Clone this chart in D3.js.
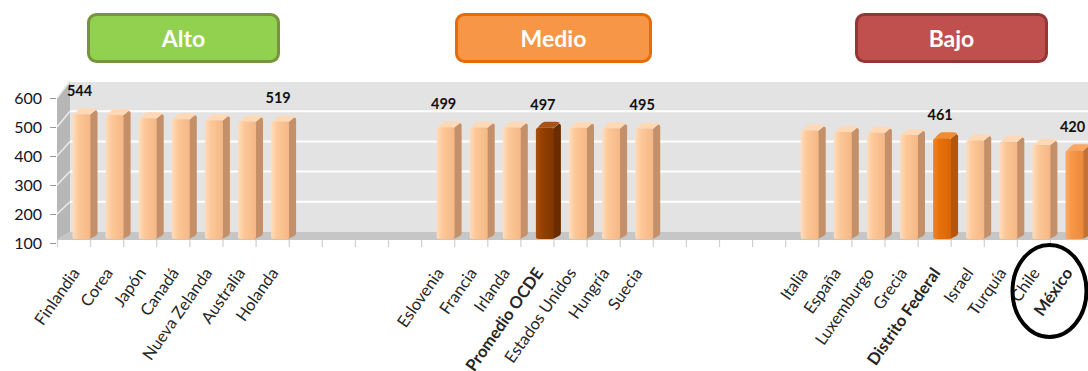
<!DOCTYPE html>
<html><head><meta charset="utf-8">
<script src="https://cdn.jsdelivr.net/npm/d3@7"></script>
<style>
html,body{margin:0;padding:0;background:#fff;overflow:hidden;}
svg{display:block;}
</style></head>
<body>
<svg id="c" width="1088" height="371"></svg>
<script>
// ---- data ----
const groupNames = ["Alto", "Medio", "Bajo"];
const altoCountries = ["Finlandia","Corea","Japón","Canadá","Nueva Zelanda","Australia","Holanda"];
const altoValues    = [544, 541, 530, 527, 523, 519, 519];
const medioCountries = ["Eslovenia","Francia","Irlanda","Promedio OCDE","Estados Unidos","Hungría","Suecia"];
const medioValues    = [499, 498, 498, 497, 497, 496, 495];
const bajoCountries = ["Italia","España","Luxemburgo","Grecia","Distrito Federal","Israel","Turquía","Chile","México"];
const bajoValues    = [488, 483, 480, 472, 461, 454, 450, 438, 420];
const labelledBars = ["Finlandia","Holanda","Eslovenia","Promedio OCDE","Suecia","Distrito Federal","México"];
const boldLabels = ["Promedio OCDE","Distrito Federal","México"];
const yTicks = [100, 200, 300, 400, 500, 600];

// ---- layout ----
const svg = d3.select("#c");
const gapSlots = 4;
const groups = [
  {name: groupNames[0], countries: altoCountries, values: altoValues, fill:"#92D050", stroke:"#77933C", bx:87, bw:193},
  {name: groupNames[1], countries: medioCountries, values: medioValues, fill:"#F79646", stroke:"#E46C0A", bx:455, bw:197},
  {name: groupNames[2], countries: bajoCountries, values: bajoValues, fill:"#C0504D", stroke:"#963634", bx:855, bw:193}
];
const slots = [];
const data = [];
groups.forEach((g, gi) => {
  g.countries.forEach((c, i) => { slots.push(c); data.push({name:c, value:g.values[i]}); });
  if (gi < groups.length - 1) for (let k = 0; k < gapSlots; k++) slots.push("gap" + gi + "_" + k);
});
const step = 33.1, x0 = 57.5;
const x = d3.scaleBand().domain(slots).range([x0, x0 + slots.length * step]).padding(0);
const yFront = d3.scaleLinear().domain([100, 600]).range([243, 98]);
const yBack  = d3.scaleLinear().domain([100, 600]).range([232, 81]);
const wallX = 70, frontX = 57, floorFront = 240;

// back wall
svg.append("rect").attr("x", wallX).attr("y", yBack(600)).attr("width", 1088 - wallX)
  .attr("height", yBack(100) - yBack(600)).attr("fill", "#E3E3E3");
// side wall
svg.append("path").attr("d", `M${frontX},${yFront(600)} L${wallX},${yBack(600)} L${wallX},${yBack(100)} L${frontX},${floorFront} Z`)
  .attr("fill", "#B7B7B7");
// gridlines back + side
yTicks.filter(v => v > 100).forEach(v => {
  svg.append("line").attr("x1", wallX).attr("x2", 1088).attr("y1", yBack(v)).attr("y2", yBack(v))
    .attr("stroke", "#fff").attr("stroke-width", 2);
  svg.append("line").attr("x1", frontX).attr("x2", wallX).attr("y1", yFront(v)).attr("y2", yBack(v))
    .attr("stroke", "#ececec").attr("stroke-width", 1.5);
});
// floor
svg.append("path").attr("d", `M${frontX},${floorFront} L1088,${floorFront} L1088,${yBack(100)} L${wallX},${yBack(100)} Z`)
  .attr("fill", "#C6C6C6");
// floor ticks
slots.forEach((s, i) => {
  const xx = x(s);
  svg.append("line").attr("x1", xx).attr("x2", xx).attr("y1", floorFront).attr("y2", floorFront + 7)
    .attr("stroke", "#cfcfcf").attr("stroke-width", 1.2);
});

// y axis
const yAxis = d3.axisLeft(yFront).tickValues(yTicks).tickSize(6).tickPadding(8);
const ag = svg.append("g").attr("transform", `translate(${frontX - 1},0)`).call(yAxis);
ag.select(".domain").remove();
ag.selectAll(".tick line").attr("stroke", "#999");
ag.selectAll(".tick text").attr("font-family", "Lato, 'Open Sans', sans-serif").attr("font-size", 16)
  .attr("fill", "#141428");

// gradients
const defs = svg.append("defs");
const palettes = {
  light: {front:["#FFDDBE","#FDC797","#F4B886"], side:"#C39069", top:"#FFD9B5"},
  ocde:  {front:["#A84F0E","#963F00","#7F3600"], side:"#6A2C00", top:"#A95215"},
  df:    {front:["#F2832A","#E8700A","#D76507"], side:"#B65507", top:"#F08A33"},
  mex:   {front:["#FBAA67","#F79646","#EC8A3B"], side:"#C37134", top:"#FBA764"}
};
Object.entries(palettes).forEach(([k, p]) => {
  const lg = defs.append("linearGradient").attr("id", "g_" + k).attr("x1", 0).attr("x2", 1).attr("y1", 0).attr("y2", 0);
  lg.append("stop").attr("offset", "0%").attr("stop-color", p.front[0]);
  lg.append("stop").attr("offset", "35%").attr("stop-color", p.front[1]);
  lg.append("stop").attr("offset", "100%").attr("stop-color", p.front[2]);
});
function pal(name) {
  if (name === "Promedio OCDE") return "ocde";
  if (name === "Distrito Federal") return "df";
  if (name === "México") return "mex";
  return "light";
}

// bars
const fw = 18, dx = 7, dy = -5, barBottom = 239;
const bars = svg.append("g");
data.forEach(d => {
  const p = palettes[pal(d.name)];
  const bx = x(d.name) + 15, top = yFront(d.value);
  const g = bars.append("g");
  g.append("path").attr("d", `M${bx + fw - 1},${top + 1} L${bx + fw + dx - 2},${top + dy + 1} Q${bx + fw + dx},${top + dy + 1} ${bx + fw + dx},${top + dy + 3} L${bx + fw + dx},${barBottom + dy - 1} Q${bx + fw + dx},${barBottom + dy + 1} ${bx + fw + dx - 2},${barBottom + dy + 2} L${bx + fw - 1},${barBottom} Z`)
    .attr("fill", p.side);
  g.append("path").attr("d", `M${bx + 1},${top + 1} Q${bx + 1},${top} ${bx + 3},${top} L${bx + fw},${top} L${bx + fw + dx - 1},${top + dy} Q${bx + fw + dx - 3},${top + dy - 1} ${bx + fw + dx - 5},${top + dy - 1} L${bx + dx + 2},${top + dy - 1} Q${bx + dx - 1},${top + dy - 1} ${bx + 1},${top + 1} Z`)
    .attr("fill", p.top);
  g.append("rect").attr("x", bx).attr("y", top).attr("width", fw).attr("height", barBottom - top)
    .attr("rx", 2.5).attr("fill", `url(#g_${pal(d.name)})`);
});

// value labels
svg.append("g").selectAll("text").data(data.filter(d => labelledBars.includes(d.name))).join("text")
  .attr("x", d => x(d.name) + 22).attr("y", d => yFront(d.value) - 18)
  .attr("text-anchor", "middle").attr("font-family", "Lato, 'Open Sans', sans-serif")
  .attr("font-weight", "bold").attr("font-size", 14.5).attr("fill", "#111")
  .text(d => d.value);

// category labels
svg.append("g").selectAll("text").data(data).join("text")
  .attr("transform", d => `translate(${x(d.name) + 23},273) rotate(-55)`)
  .attr("text-anchor", "end").attr("font-family", "Lato, 'Open Sans', sans-serif")
  .attr("font-size", 16.5).attr("fill", "#262626")
  .attr("font-weight", d => boldLabels.includes(d.name) ? "bold" : "normal")
  .text(d => d.name);

// group buttons
groups.forEach(g => {
  svg.append("rect").attr("x", g.bx + 1.5).attr("y", 14.5).attr("width", g.bw - 3).attr("height", 47)
    .attr("rx", 8).attr("fill", g.fill).attr("stroke", g.stroke).attr("stroke-width", 3);
  svg.append("text").attr("x", g.bx + g.bw / 2).attr("y", 46.5).attr("text-anchor", "middle")
    .attr("font-family", "Lato, 'Open Sans', sans-serif").attr("font-weight", "bold").attr("font-size", 23)
    .attr("fill", "#fff").text(g.name);
});

// highlight circle around México
svg.append("ellipse").attr("cx", x("México") - 1).attr("cy", 291).attr("rx", 37).attr("ry", 46)
  .attr("fill", "none").attr("stroke", "#000").attr("stroke-width", 4);
</script>
</body></html>
